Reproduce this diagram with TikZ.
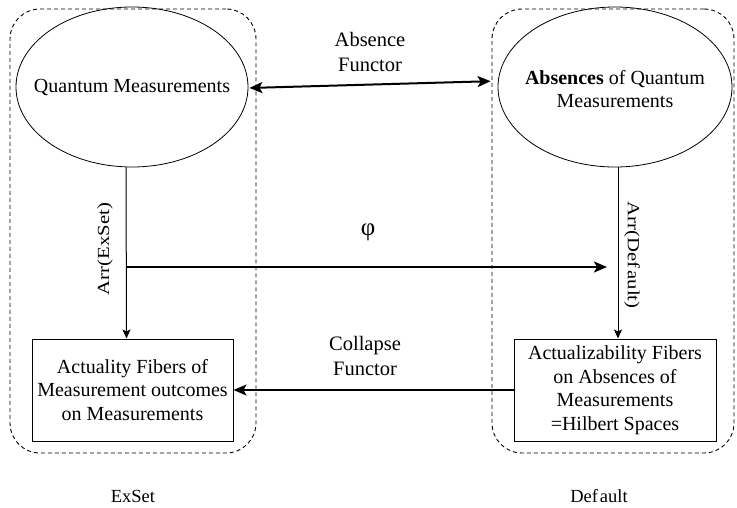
\documentclass[tikz,border=0pt]{standalone}
\usepackage{fontspec}
\usepackage{graphicx}
\setmainfont{Liberation Serif}
\usetikzlibrary{arrows.meta,shapes.geometric}
\begin{document}
\begin{tikzpicture}[x=1pt,y=-1pt,
  grp/.style={draw, dash pattern=on 4pt off 3pt, line width=0.9pt, rounded corners=30pt, inner sep=0pt},
  ell/.style={draw, ellipse, line width=0.8pt, inner sep=0pt},
  etxt/.style={align=center, inner sep=0pt, font=\fontsize{20}{23}\selectfont},
  rbox/.style={draw, rectangle, line width=1pt, inner sep=0pt, align=center, font=\fontsize{20}{23.5}\selectfont},
  fat/.style={line width=2pt, -{Stealth[length=13pt,width=11pt,inset=3pt]}},
  slim/.style={line width=1pt, -{Stealth[length=9pt,width=8pt,inset=2pt]}},
  lbl/.style={align=center, font=\fontsize{20.5}{25}\selectfont, inner sep=0pt}
]
\useasboundingbox (0,0) rectangle (737,507);
% group containers
\node (gl) [grp, minimum width=246pt, minimum height=444pt] at (133,231) {};
\node (gr) [grp, minimum width=242pt, minimum height=444pt] at (613,231) {};
% main nodes
\node (qm) [ell, minimum width=232pt, minimum height=160pt] at (132,87) {};
\node (qmt) [etxt] at (qm.center) {Quantum Measurements};
\node (aqm) [ell, minimum width=234pt, minimum height=160pt] at (615,87) {};
\node (aqmt) [etxt] at ([yshift=-2pt]aqm.center) {\textbf{Absences} of Quantum\\Measurements};
\node (af) [rbox, minimum width=201pt, minimum height=102pt] at (132.5,390) {Actuality Fibers of\\Measurement outcomes\\on Measurements};
\node (abf) [rbox, minimum width=202pt, minimum height=102pt] at (615,390) {Actualizability Fibers\\on Absences of\\Measurements\\=Hilbert Spaces};
% connectors
\draw[line width=2pt, {Stealth[length=13pt,width=11pt,inset=3pt]}-{Stealth[length=13pt,width=11pt,inset=3pt]}, shorten >=7pt, shorten <=1pt]
  ([yshift=-1pt]qm.east) -- ([yshift=6pt]aqm.west);
\draw[slim] ([xshift=-6pt]qm.south) -- ([xshift=-6pt]af.north);
\draw[slim] ([xshift=3pt]aqm.south) -- ([xshift=3pt]abf.north);
\coordinate (p0) at (126,267);
\coordinate (p1) at (607,267);
\draw[fat] (p0) -- (p1);
\draw[fat] (abf.west) -- (af.east);
% labels
\node (l1) [lbl] at (370,52) {Absence\\Functor};
\node (l2) [lbl] at (365,356) {Collapse\\Functor};
\node (l3) [inner sep=0pt, font=\fontsize{25}{25}\selectfont] at (368,232) {φ};
\node (l4) [inner sep=0pt, rotate=90, font=\fontsize{17}{17}\selectfont] at (105,249) {\scalebox{1.22}[1]{Arr(ExSet)}};
\node (l5) [inner sep=0pt, rotate=-90, font=\fontsize{17}{17}\selectfont] at (632,255) {\scalebox{1.22}[1]{Arr(Def\kern2pt ault)}};
\node (l6) [inner sep=0pt, font=\fontsize{18.5}{18.5}\selectfont] at (133,496) {ExSet};
\node (l7) [inner sep=0pt, font=\fontsize{18.5}{18.5}\selectfont] at (599,496) {Def\kern2pt ault};
\end{tikzpicture}
\end{document}
